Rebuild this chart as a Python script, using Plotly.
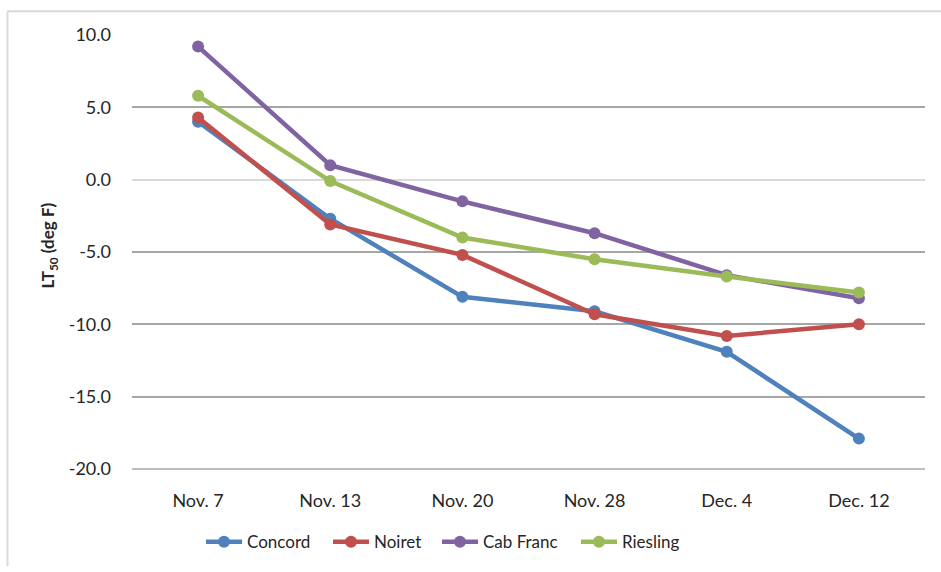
import plotly.graph_objects as go

dates = ["Nov. 7", "Nov. 13", "Nov. 20", "Nov. 28", "Dec. 4", "Dec. 12"]
concord = [4.0, -2.7, -8.1, -9.1, -11.9, -17.9]
noiret = [4.3, -3.1, -5.2, -9.3, -10.8, -10.0]
cab_franc = [9.2, 1.0, -1.5, -3.7, -6.6, -8.2]
riesling = [5.8, -0.1, -4.0, -5.5, -6.7, -7.8]

series = [
    ("Concord", concord, "#4F81BD"),
    ("Noiret", noiret, "#C0504D"),
    ("Cab Franc", cab_franc, "#8064A2"),
    ("Riesling", riesling, "#9BBB59"),
]
legend_text_x = [247, 374, 483, 622]

W, H = 941, 572
L, R, T, B = 132, 16, 35, 98
pw, ph = W - L - R, H - T - B


def px(xp):
    return (xp - L) / pw


def py(yp):
    return (T + ph - yp) / ph


fig = go.Figure()
legend_names = ["legend", "legend2", "legend3", "legend4"]
for (name, vals, col), lg in zip(series, legend_names):
    fig.add_trace(go.Scatter(
        x=dates, y=vals, name=name, mode="lines+markers",
        line=dict(color=col, width=4.5),
        marker=dict(color=col, size=12),
        legend=lg,
    ))

font = "Lato, 'Open Sans', sans-serif"
legends = {}
for lg, tx in zip(legend_names, legend_text_x):
    legends[lg] = dict(orientation="h", x=px(tx - 46), xanchor="left", y=py(548), yanchor="middle",
                       font=dict(size=17, color="#262626"), itemwidth=36,
                       bgcolor="rgba(0,0,0,0)", borderwidth=0)

fig.update_layout(
    width=W, height=H,
    margin=dict(l=L, r=R, t=T, b=B),
    paper_bgcolor="white", plot_bgcolor="white",
    font=dict(family=font, size=17, color="#262626"),
    showlegend=True,
    xaxis=dict(type="category", range=[-0.5, 5.5], showgrid=False, zeroline=False,
               showline=False, ticks="", ticklabelstandoff=19,
               tickfont=dict(size=18, color="#262626")),
    yaxis=dict(range=[-20, 10], tickvals=[10, 5, 0, -5, -10, -15, -20],
               ticktext=["10.0", "5.0", "0.0", "-5.0", "-10.0", "-15.0", "-20.0"],
               showgrid=True, gridcolor="#A6A6A6", gridwidth=1.5,
               zeroline=True, zerolinecolor="#D9D9D9", zerolinewidth=1.5,
               showline=False, ticks="", ticklabelstandoff=20,
               tickfont=dict(size=18, color="#262626")),
    shapes=[dict(type="line", xref="paper", yref="paper",
                 x0=px(7.5), x1=px(7.5), y0=py(572), y1=py(11),
                 line=dict(color="#D9D9D9", width=2)),
            dict(type="line", xref="paper", yref="paper",
                 x0=px(7.5), x1=px(941), y0=py(11), y1=py(11),
                 line=dict(color="#D9D9D9", width=2)),
            dict(type="line", xref="paper", yref="paper",
                 x0=0, x1=1, y0=0, y1=0,
                 line=dict(color="#A6A6A6", width=1.5), layer="below")],
    annotations=[dict(text="<b>LT<sub>50</sub> (deg F)</b>", xref="paper", yref="paper",
                      x=px(49), y=py(248), textangle=-90,
                      showarrow=False, xanchor="center", yanchor="middle",
                      font=dict(size=17, color="#262626"))],
    **legends,
)

fig.write_html("out.html", config={"displayModeBar": False},
               post_script="document.body.style.margin='0px';")
